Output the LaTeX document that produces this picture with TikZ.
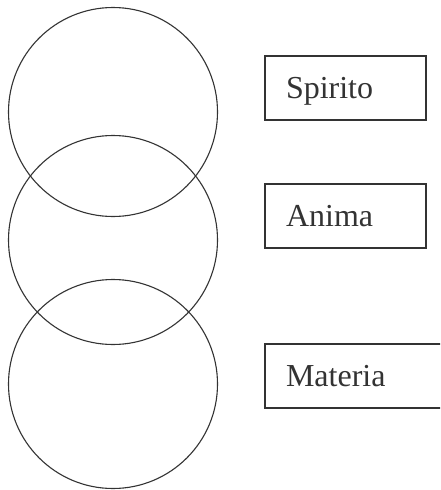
\documentclass[tikz,border=0pt]{standalone}
\usepackage{fontspec}
\setmainfont{Liberation Serif}
\definecolor{ink}{HTML}{333333}
\begin{document}
\begin{tikzpicture}[x=1pt,y=-1pt,
  ring/.style={draw=ink, line width=1.1pt, circle, inner sep=0pt, minimum size=209pt},
  label/.style={draw=ink, line width=1.3pt, rectangle, inner xsep=21pt, inner ysep=0pt,
    minimum height=64pt, align=left, text height=22pt, text depth=2pt,
    font=\fontsize{32}{36}\selectfont, text=ink}]
\clip (0,0) rectangle (440,490);
\fill[white] (0,0) rectangle (440,490);
\node[ring] (c1) at (113,112) {};
\node[ring] (c2) at (113,240) {};
\node[ring] (c3) at (113,384) {};
\node[label, text width=119pt] (spirito) at (345.5,88) {Spirito};
\node[label, text width=119pt] (anima) at (345.5,216) {Anima};
\node[label, text width=140pt] (materia) at (356,376) {Materia};
\end{tikzpicture}
\end{document}
